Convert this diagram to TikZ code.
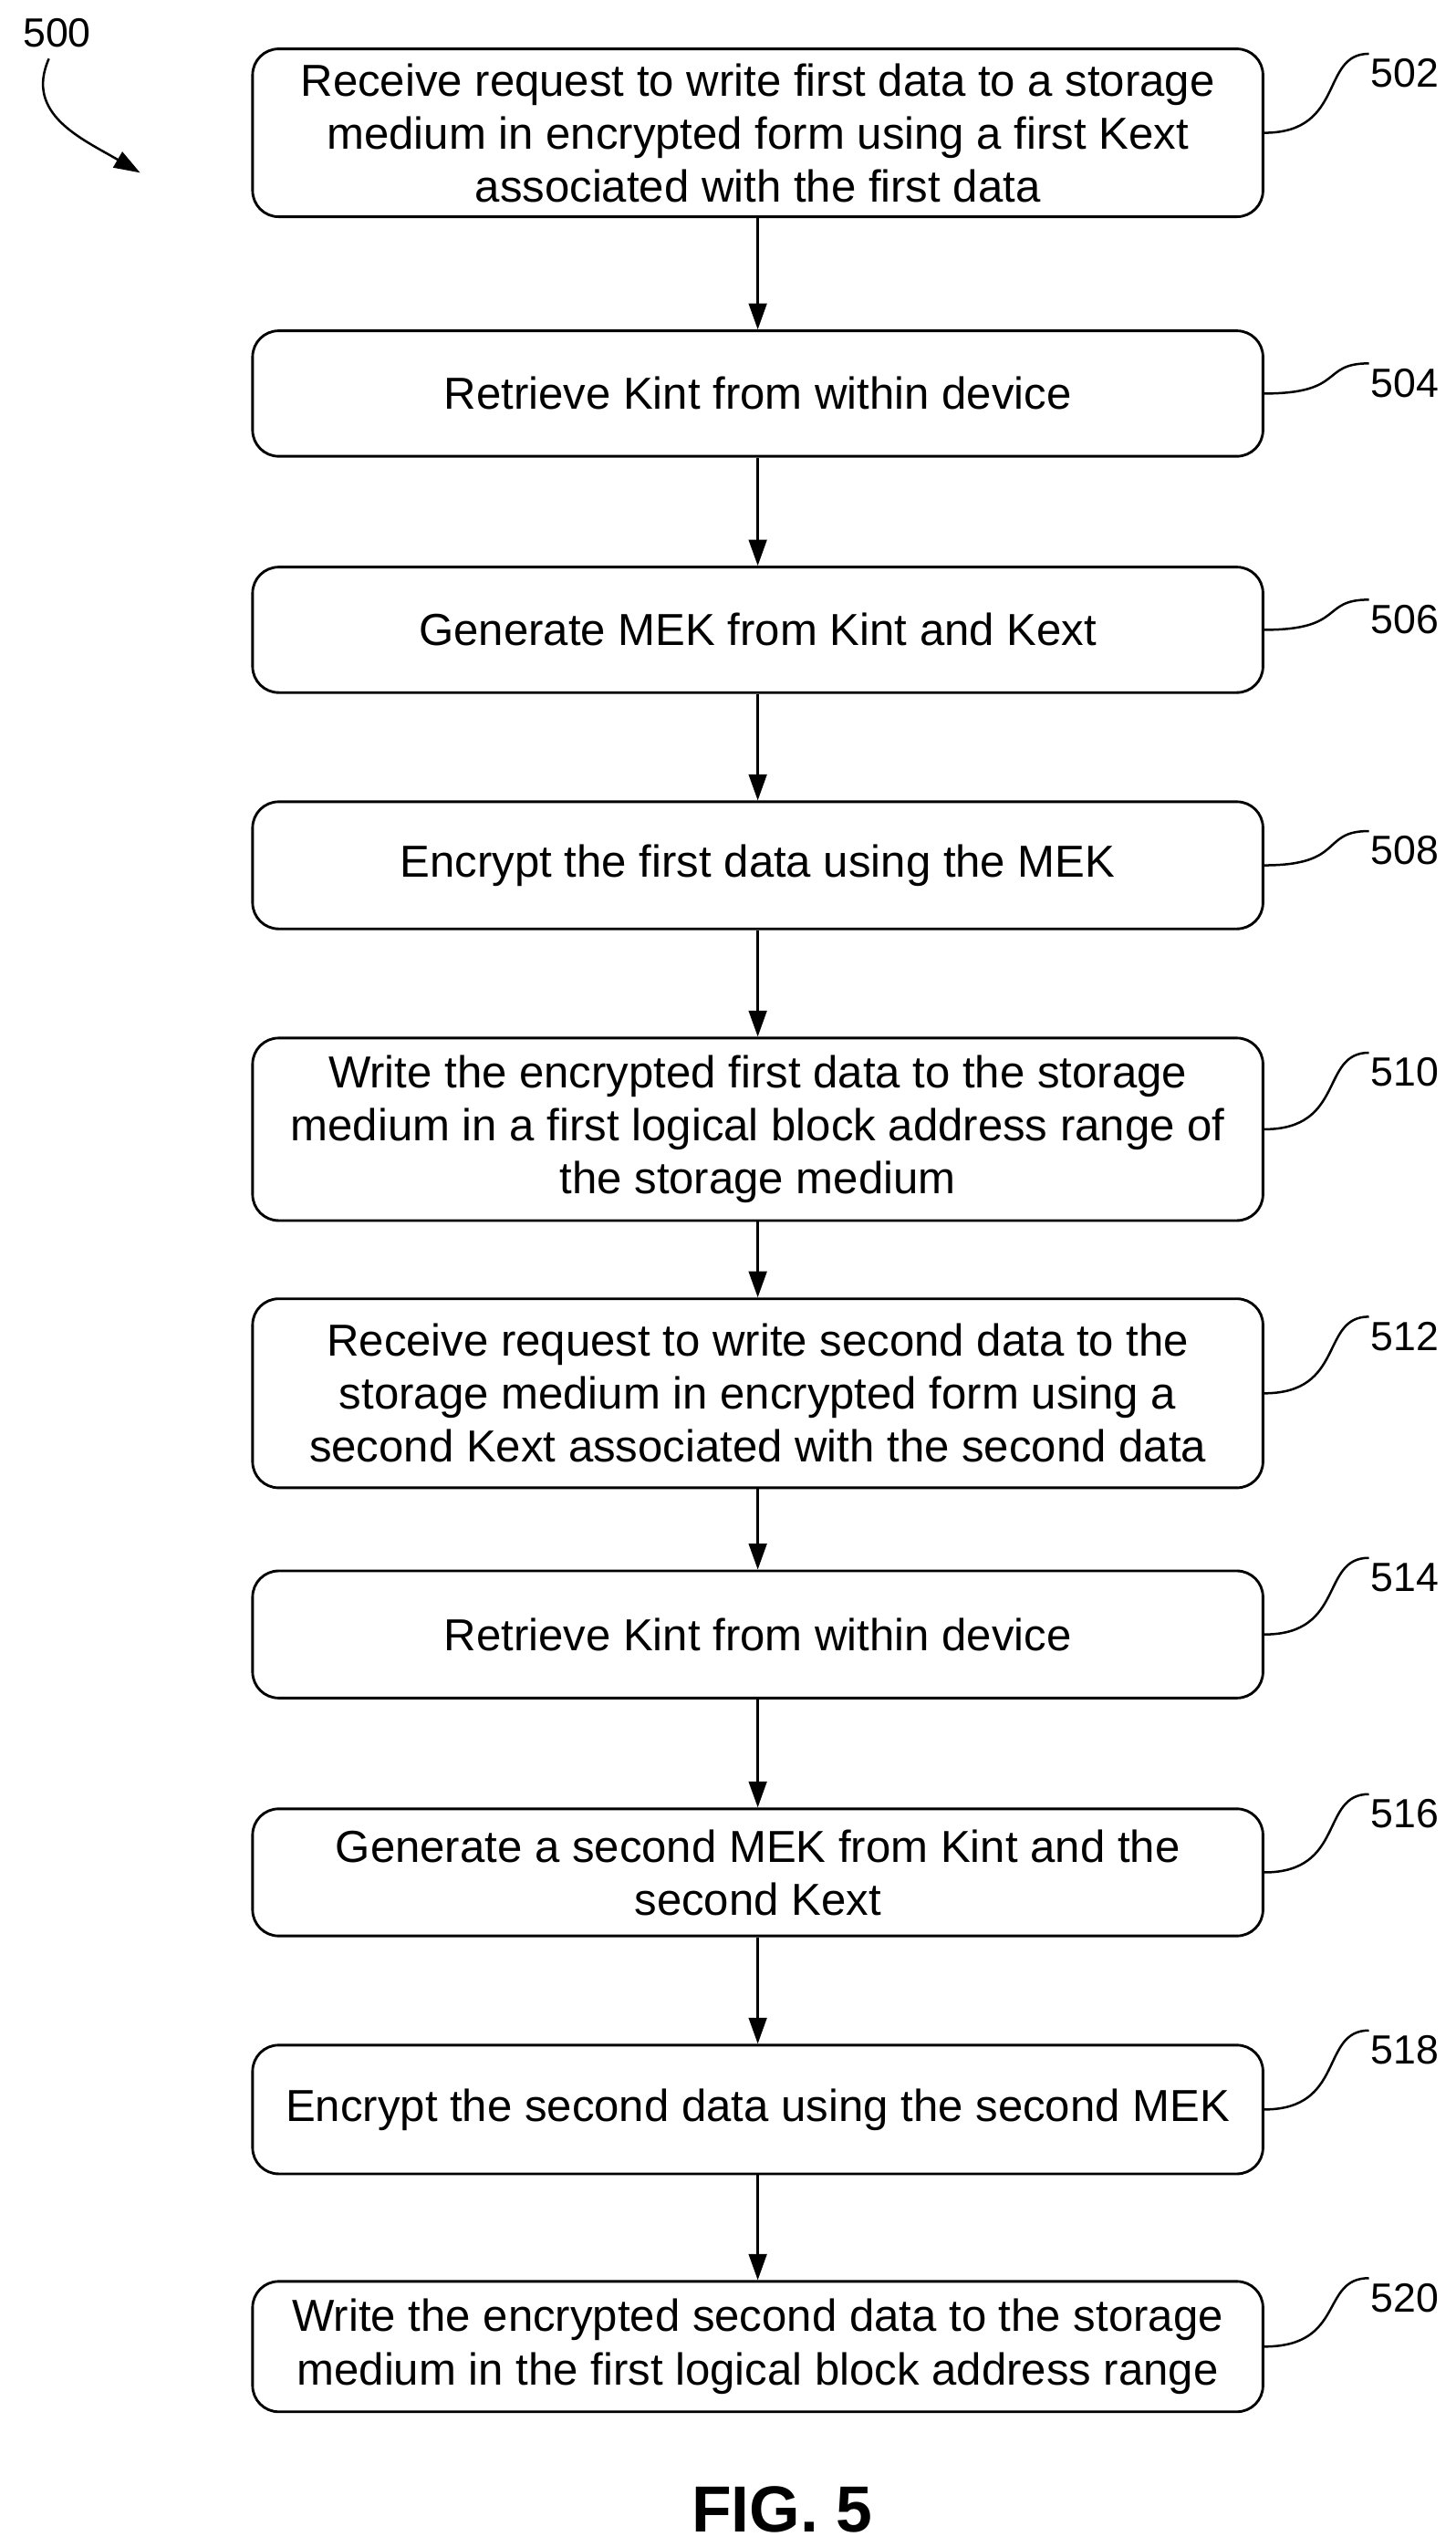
\documentclass[tikz,border=0pt]{standalone}
\usepackage{fontspec}
\setmainfont{Liberation Sans}
\usetikzlibrary{arrows.meta}
\begin{document}
\begin{tikzpicture}[x=1pt,y=-1pt,
 box/.style={draw,line width=1.6pt,rounded corners=16pt,minimum width=620pt,align=center,font=\fontsize{27.5}{32.5}\selectfont,inner sep=0pt},
 lbl/.style={font=\fontsize{25}{28}\selectfont},
 arr/.style={-{Triangle[length=16pt,width=11pt]},line width=1.6pt},
 lead/.style={line width=1.4pt}]
\useasboundingbox (0,0) rectangle (893,1563);
\def\B#1#2#3#4#5{\node[box,minimum height=#3-#2] (b#1) at (465,{(#2+#3)/2}) {#4};
 \node[lbl] (l#1) at (862,#5) {#1};
 \draw[lead] (b#1.east) .. controls ++(50,0) and ++(-30,0) .. ([xshift=-22pt,yshift=12pt]l#1.center);}
\B{502}{30}{133}{Receive request to write first data to a storage\\medium in encrypted form using a first Kext\\associated with the first data}{45}
\B{504}{203}{280}{Retrieve Kint from within device}{235}
\B{506}{348}{425}{Generate MEK from Kint and Kext}{380}
\B{508}{492}{570}{Encrypt the first data using the MEK}{522}
\B{510}{637}{749}{Write the encrypted first data to the storage\\medium in a first logical block address range of\\the storage medium}{658}
\B{512}{797}{913}{Receive request to write second data to the\\storage medium in encrypted form using a\\second Kext associated with the second data}{820}
\B{514}{964}{1042}{Retrieve Kint from within device}{968}
\B{516}{1110}{1188}{Generate a second MEK from Kint and the\\second Kext}{1113}
\B{518}{1255}{1334}{Encrypt the second data using the second MEK}{1258}
\B{520}{1400}{1480}{Write the encrypted second data to the storage\\medium in the first logical block address range}{1410}
\foreach \a/\b in {502/504,504/506,506/508,508/510,510/512,512/514,514/516,516/518,518/520}
 \draw[arr] (b\a) -- (b\b);
\node[lbl] (n500) at (35,20) {500};
\coordinate (t500) at (86,106);
\draw[arr,line width=1.4pt] (30,36) .. controls (15,70) and (50,85) .. (t500);
\node[font=\fontsize{40}{42}\selectfont\bfseries] (fig) at (480,1540) {FIG. 5};
\end{tikzpicture}
\end{document}
